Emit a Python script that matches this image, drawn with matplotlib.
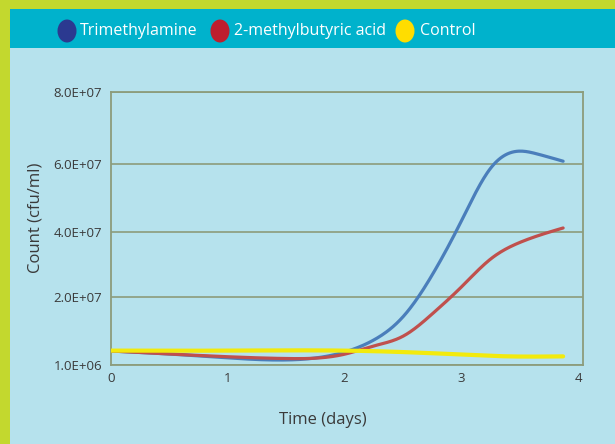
import numpy as np
import matplotlib
matplotlib.use("Agg")
import matplotlib.pyplot as plt
from matplotlib.patches import Rectangle, Ellipse

# ---------------- data ----------------
series_names = ["Trimethylamine", "2-methylbutyric acid", "Control"]

tma_days = [0, 0.5, 1.0, 1.5, 2.0, 2.25, 2.5, 2.75, 3.0, 3.25, 3.5, 3.65, 3.87]
tma_count = [4.9e6, 4.06e6, 3.0e6, 2.4e6, 4.6e6, 7.95e6, 1.44e7, 2.67e7, 4.32e7, 5.88e7,
             6.36e7, 6.28e7, 6.08e7]

mba_days = [0, 0.5, 1.0, 1.5, 2.0, 2.25, 2.5, 2.75, 3.0, 3.25, 3.5, 3.87]
mba_count = [4.9e6, 4.06e6, 3.3e6, 2.8e6, 4.0e6, 6.3e6, 9.0e6, 1.52e7, 2.3e7, 3.16e7,
             3.67e7, 4.11e7]

ctl_days = [0, 1.0, 2.0, 2.5, 3.0, 3.4, 3.87]
ctl_count = [5.0e6, 5.0e6, 5.0e6, 4.6e6, 3.9e6, 3.4e6, 3.4e6]

y_tick_values = [1e6, 2e7, 4e7, 6e7, 8e7]
y_tick_labels = ["1.0E+06", "2.0E+07", "4.0E+07", "6.0E+07", "8.0E+07"]
x_tick_values = [0, 1, 2, 3, 4]
x_tick_labels = ["0", "1", "2", "3", "4"]

# --------------- styling ---------------
GREEN = "#c3d82e"
TEAL = "#00b2cc"
LIGHT = "#b6e2ed"
GRID = "#8c9c7c"
TXT = "#3a3a3a"
line_colors = ["#4a7ebb", "#c0504d", "#f2ea0c"]
legend_colors = ["#2b3990", "#be1e2d", "#ffdd00"]
FONT = ["Open Sans", "DejaVu Sans"]
plt.rcParams["font.family"] = FONT

W, H = 615, 444
fig = plt.figure(figsize=(W / 100, H / 100), dpi=100, facecolor=GREEN)

def fx(px):
    return px / W

def fy(py):
    return 1 - py / H

# light panel + teal header
fig.patches.append(Rectangle((fx(10), 0), 1 - fx(10), fy(9), transform=fig.transFigure,
                             facecolor=LIGHT, edgecolor="none", zorder=-3))
fig.patches.append(Rectangle((fx(10), fy(48)), 1 - fx(10), fy(9) - fy(48), transform=fig.transFigure,
                             facecolor=TEAL, edgecolor="none", zorder=-2))

# legend
leg_pos = [(67, 80), (220, 234), (405, 420)]
for (cx, tx), name, col in zip(leg_pos, series_names, legend_colors):
    fig.patches.append(Ellipse((fx(cx), fy(31)), 19 / W, 23 / H, transform=fig.transFigure,
                               facecolor=col, edgecolor="none", zorder=-1))
    fig.text(fx(tx), fy(31), name, color="white", fontsize=11.5, va="center", ha="left")

# axes
ax = fig.add_axes([fx(110.7), fy(365), fx(583) - fx(110.7), fy(92) - fy(365)])
ax.set_facecolor("none")
ax.set_zorder(5)

pos = [0, 68.3, 133.3, 200.9, 273]

def fwd(v):
    return np.interp(v, y_tick_values, pos)

def inv(p):
    return np.interp(p, pos, y_tick_values)

ax.set_yscale("function", functions=(fwd, inv))
ax.set_ylim(1e6, 8e7)
ax.set_xlim(0, 4.04)


def smooth(xs, ys, n=400):
    """Natural cubic spline through the points (in scaled y space)."""
    x = np.asarray(xs, float)
    y = np.asarray(fwd(np.asarray(ys, float)), float)
    m = len(x)
    h = np.diff(x)
    A = np.zeros((m, m))
    b = np.zeros(m)
    A[0, 0] = A[-1, -1] = 1
    for i in range(1, m - 1):
        A[i, i - 1] = h[i - 1]
        A[i, i] = 2 * (h[i - 1] + h[i])
        A[i, i + 1] = h[i]
        b[i] = 3 * ((y[i + 1] - y[i]) / h[i] - (y[i] - y[i - 1]) / h[i - 1])
    c = np.linalg.solve(A, b)
    bb = (y[1:] - y[:-1]) / h - h * (2 * c[:-1] + c[1:]) / 3
    d = (c[1:] - c[:-1]) / (3 * h)
    xx = np.linspace(x[0], x[-1], n)
    idx = np.clip(np.searchsorted(x, xx) - 1, 0, m - 2)
    dx = xx - x[idx]
    yy = y[idx] + bb[idx] * dx + c[idx] * dx ** 2 + d[idx] * dx ** 3
    return xx, inv(yy)


for xs, ys, col, lw, z in [(tma_days, tma_count, line_colors[0], 2.3, 4),
                           (mba_days, mba_count, line_colors[1], 2.3, 5),
                           (ctl_days, ctl_count, line_colors[2], 3.0, 6)]:
    sx, sy = smooth(xs, ys)
    ax.plot(sx, sy, color=col, lw=lw, solid_capstyle="round", zorder=z)

ax.set_yticks(y_tick_values)
ax.set_yticklabels(y_tick_labels)
ax.set_xticks(x_tick_values)
ax.set_xticklabels(x_tick_labels)
ax.minorticks_off()
ax.yaxis.grid(True, color=GRID, lw=1.2)
ax.set_axisbelow(True)
for s in ax.spines.values():
    s.set_color(GRID)
    s.set_linewidth(1.3)
ax.tick_params(axis="both", length=0, colors=TXT, labelsize=9.5)
ax.tick_params(axis="y", pad=6)
ax.tick_params(axis="x", pad=5)

fig.text(fx(35), fy(218), "Count (cfu/ml)", rotation=90, ha="center", va="center",
         fontsize=12, color=TXT)
fig.text(fx(323), fy(420), "Time (days)", ha="center", va="center", fontsize=12, color=TXT)

fig.savefig("out.png", dpi=100, facecolor=GREEN)
